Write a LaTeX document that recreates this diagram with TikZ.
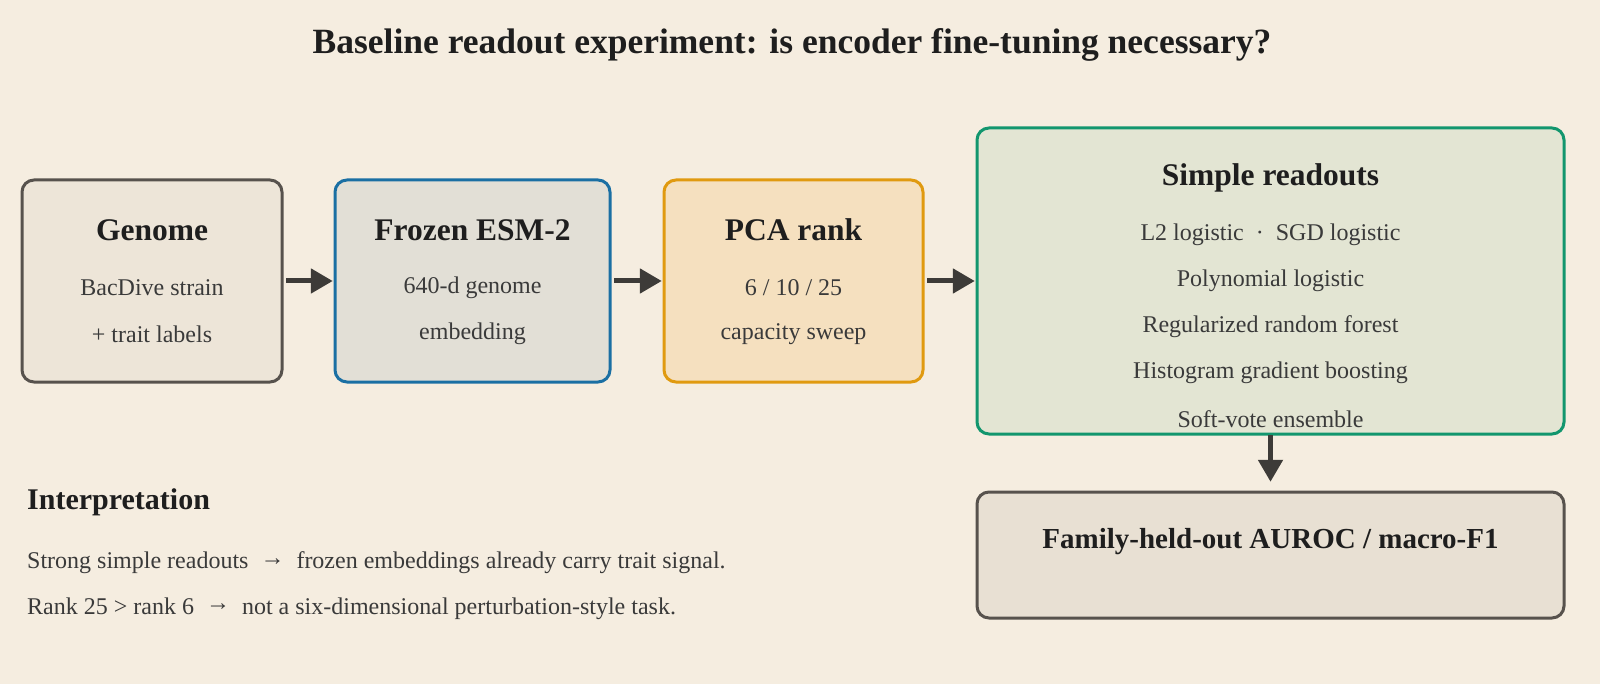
\documentclass[tikz,border=0pt]{standalone}
\usepackage{fontspec}
\setmainfont{Liberation Serif}
\usetikzlibrary{arrows.meta}
\definecolor{bg}{HTML}{F5EDE0}
\definecolor{genfill}{HTML}{EDE5D8}
\definecolor{graybd}{HTML}{57524D}
\definecolor{esmfill}{HTML}{E2DFD6}
\definecolor{esmbd}{HTML}{1A6FA3}
\definecolor{pcafill}{HTML}{F5E0BF}
\definecolor{pcabd}{HTML}{E09A10}
\definecolor{srfill}{HTML}{E3E5D3}
\definecolor{srbd}{HTML}{12966E}
\definecolor{famfill}{HTML}{E8E0D3}
\definecolor{titlec}{HTML}{1E1E1E}
\definecolor{bodyc}{HTML}{3A3A3A}
\definecolor{arrowc}{HTML}{3D3B38}
\newcommand{\myarr}{\raisebox{0.16em}{→}}
\tikzset{
  box/.style={draw, line width=3pt, rounded corners=12pt},
  boxtitle/.style={font=\fontsize{31.5}{36}\selectfont\bfseries, text=titlec},
  boxline/.style={font=\fontsize{24}{28}\selectfont, text=bodyc},
  flow/.style={draw=arrowc, line width=5pt, -{Triangle[length=22pt,width=24pt]}},
}
\begin{document}
\begin{tikzpicture}[x=1pt,y=-1pt]
\useasboundingbox[fill=bg] (0,0) rectangle (1600,684);
\node[font=\fontsize{35.5}{40}\selectfont\bfseries, text=titlec] (title) at (792,45) {Baseline readout experiment: is encoder fine-tuning necessary?};

% boxes
\path[box, draw=graybd, fill=genfill] (22,180) rectangle (282,382);
\node[inner sep=0, minimum width=260pt, minimum height=202pt] (gen) at (152,281) {};
\path[box, draw=esmbd, fill=esmfill] (335,180) rectangle (610,382);
\node[inner sep=0, minimum width=275pt, minimum height=202pt] (esm) at (472.5,281) {};
\path[box, draw=pcabd, fill=pcafill] (664,180) rectangle (923,382);
\node[inner sep=0, minimum width=259pt, minimum height=202pt] (pca) at (793.5,281) {};
\path[box, draw=srbd, fill=srfill] (977,128) rectangle (1564,434);
\node[inner sep=0, minimum width=587pt, minimum height=306pt] (sr) at (1270.5,281) {};
\path[box, draw=graybd, fill=famfill] (977,492) rectangle (1564,618);
\node[inner sep=0, minimum width=587pt, minimum height=126pt] (fam) at (1270.5,555) {};

% texts
\node[boxtitle] (gent) at (152,230) {Genome};
\node[boxline] (gen1) at (152,288) {BacDive strain};
\node[boxline] (gen2) at (152,334) {+ trait labels};

\node[boxtitle] (esmt) at (472.5,230) {Frozen ESM-2};
\node[boxline] (esm1) at (472.5,288) {640-d genome};
\node[boxline] (esm2) at (472.5,334) {embedding};

\node[boxtitle] (pcat) at (793.5,230) {PCA rank};
\node[boxline] (pca1) at (793.5,288) {6 / 10 / 25};
\node[boxline] (pca2) at (793.5,334) {capacity sweep};

\node[boxtitle] (srt) at (1270.5,178) {Simple readouts};
\node[boxline] (sr1) at (1270.5,235) {L2 logistic \ · \ SGD logistic};
\node[boxline] (sr2) at (1270.5,281) {Polynomial logistic};
\node[boxline] (sr3) at (1270.5,327) {Regularized random forest};
\node[boxline] (sr4) at (1270.5,373) {Histogram gradient boosting};
\node[boxline] (sr5) at (1270.5,419) {Soft-vote ensemble};

\node[font=\fontsize{29}{34}\selectfont\bfseries, text=titlec] (famt) at (1270.5,542) {Family-held-out AUROC / macro-F1};

% interpretation
\node[anchor=west, inner sep=0, font=\fontsize{30}{34}\selectfont\bfseries, text=titlec] (interp) at (27,502) {Interpretation};
\node[anchor=west, inner sep=0, boxline] (int1) at (27,563) {Strong simple readouts \ \myarr{} \ frozen embeddings already carry trait signal.};
\node[anchor=west, inner sep=0, boxline] (int2) at (27,609) {Rank 25 > rank 6 \ \myarr{} \ not a six-dimensional perturbation-style task.};

% arrows
\draw[flow] ([xshift=4pt]gen.east) -- ([xshift=-2pt]esm.west);
\draw[flow] ([xshift=4pt]esm.east) -- ([xshift=-2pt]pca.west);
\draw[flow] ([xshift=4pt]pca.east) -- ([xshift=-2pt]sr.west);
\draw[flow] ([yshift=-1pt]sr.south) -- ([yshift=10pt]fam.north);
\end{tikzpicture}
\end{document}
